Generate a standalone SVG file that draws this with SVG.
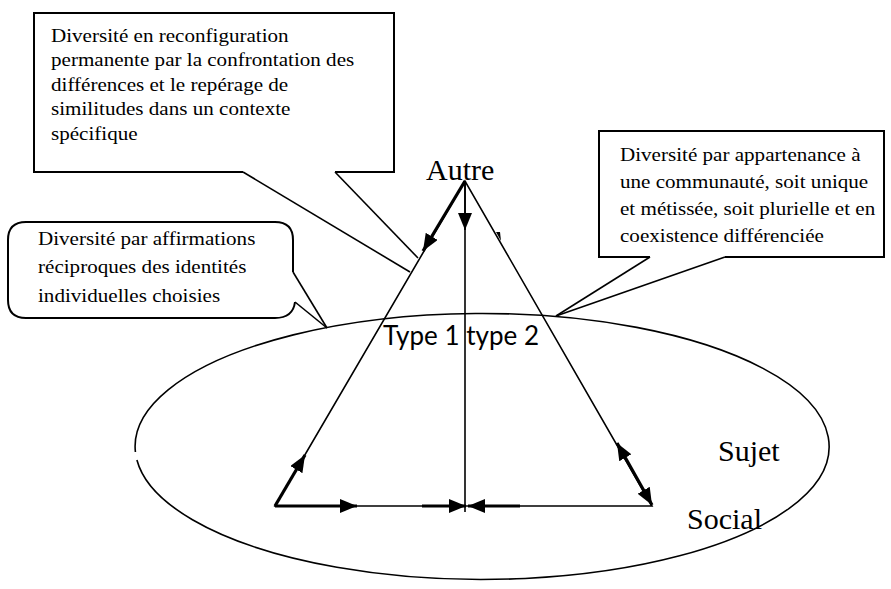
<svg xmlns="http://www.w3.org/2000/svg" width="891" height="589" viewBox="0 0 891 589">
<defs>
<style>
.box{fill:#fff;stroke:#000;stroke-width:2;stroke-linejoin:miter}
.thin{fill:none;stroke:#000;stroke-width:1.6}
.thick{fill:none;stroke:#000;stroke-width:3.2}
.ct{font-family:"Liberation Serif","Times New Roman",serif;font-size:19px;fill:#000}
.lbl{font-family:"Liberation Serif","Times New Roman",serif;font-size:30px;fill:#000}
.typ{font-family:Lato,"Open Sans",sans-serif;font-size:26px;fill:#000}
</style>
<marker id="ah" markerUnits="userSpaceOnUse" markerWidth="17" markerHeight="14" refX="17" refY="7" orient="auto-start-reverse">
<path d="M0,0 L17,7 L0,14 z" fill="#000"/>
</marker>
</defs>
<rect width="891" height="589" fill="#fff"/>

<g id="ellipse">
<path class="thin" d="M135.4,452 A347,133 0 1,1 136.9,460"/>
</g>

<g id="callout-top">
<path class="box" d="M243,172 L34,172 L34,13 L394,13 L394,172 L335,172" fill="none"/>
<g transform="translate(51,0) scale(1.11,1)">
<text class="ct"><tspan x="0" y="42">Diversité en reconfiguration</tspan><tspan x="0" y="66.5">permanente par la confrontation des</tspan><tspan x="0" y="91">différences et le repérage de</tspan><tspan x="0" y="115.5">similitudes dans un contexte</tspan><tspan x="0" y="140">spécifique</tspan></text>
</g>
</g>

<g id="callout-right">
<path class="box" d="M650,257 L599,257 L599,131 L884,131 L884,257 L725,257" fill="none"/>
<g transform="translate(620,0) scale(1.11,1)">
<text class="ct"><tspan x="0" y="161">Diversité par appartenance à</tspan><tspan x="0" y="188">une communauté, soit unique</tspan><tspan x="0" y="215">et métissée, soit plurielle et en</tspan><tspan x="0" y="242">coexistence différenciée</tspan></text>
</g>
</g>

<g id="callout-left">
<path class="box" d="M293,272 L293,240 Q293,222 275,222 L26,222 Q8,222 8,240 L8,300 Q8,318 26,318 L275,318 Q293,318 295,302" fill="none"/>
<g transform="translate(38,0) scale(1.11,1)">
<text class="ct"><tspan x="0" y="245">Diversité par affirmations</tspan><tspan x="0" y="273">réciproques des identités</tspan><tspan x="0" y="302">individuelles choisies</tspan></text>
</g>
</g>

<g id="triangle">
<path class="thin" d="M465,181 L275,506 L652,506 Z"/>
<line class="thin" x1="465" y1="181" x2="465" y2="512"/>
</g>

<g id="labels">
<text class="lbl" x="426" y="180">Autre</text>
<text class="lbl" x="718" y="461">Sujet</text>
<text class="lbl" x="687" y="529">Social</text>
<text class="typ" x="383" y="345">Type 1 type 2</text>
</g>

<g id="connectors">
<line class="thin" x1="243" y1="172" x2="410" y2="272"/>
<line class="thin" x1="335" y1="172" x2="418" y2="258"/>
<line class="thin" x1="650" y1="257" x2="556" y2="316"/>
<line class="thin" x1="725" y1="257" x2="556" y2="316"/>
<line class="thin" x1="293" y1="272" x2="327" y2="328"/>
<line class="thin" x1="295" y1="302" x2="327" y2="328"/>
<path class="thick" d="M465,181 L423,251" marker-end="url(#ah)"/>
<path class="thin" d="M465,181 L465,230" marker-end="url(#ah)"/>
<path class="thick" d="M275,506 L305,455" marker-end="url(#ah)"/>
<path class="thick" d="M275,506 L357,506" marker-end="url(#ah)"/>
<path class="thick" d="M422,506 L466,506" marker-end="url(#ah)"/>
<path class="thick" d="M520,506 L468,506" marker-end="url(#ah)"/>
<path class="thick" d="M617,443 L652,505" marker-start="url(#ah)" marker-end="url(#ah)"/>
<polygon points="496,232 501,241 500,232" fill="#000"/>
</g>
</svg>
